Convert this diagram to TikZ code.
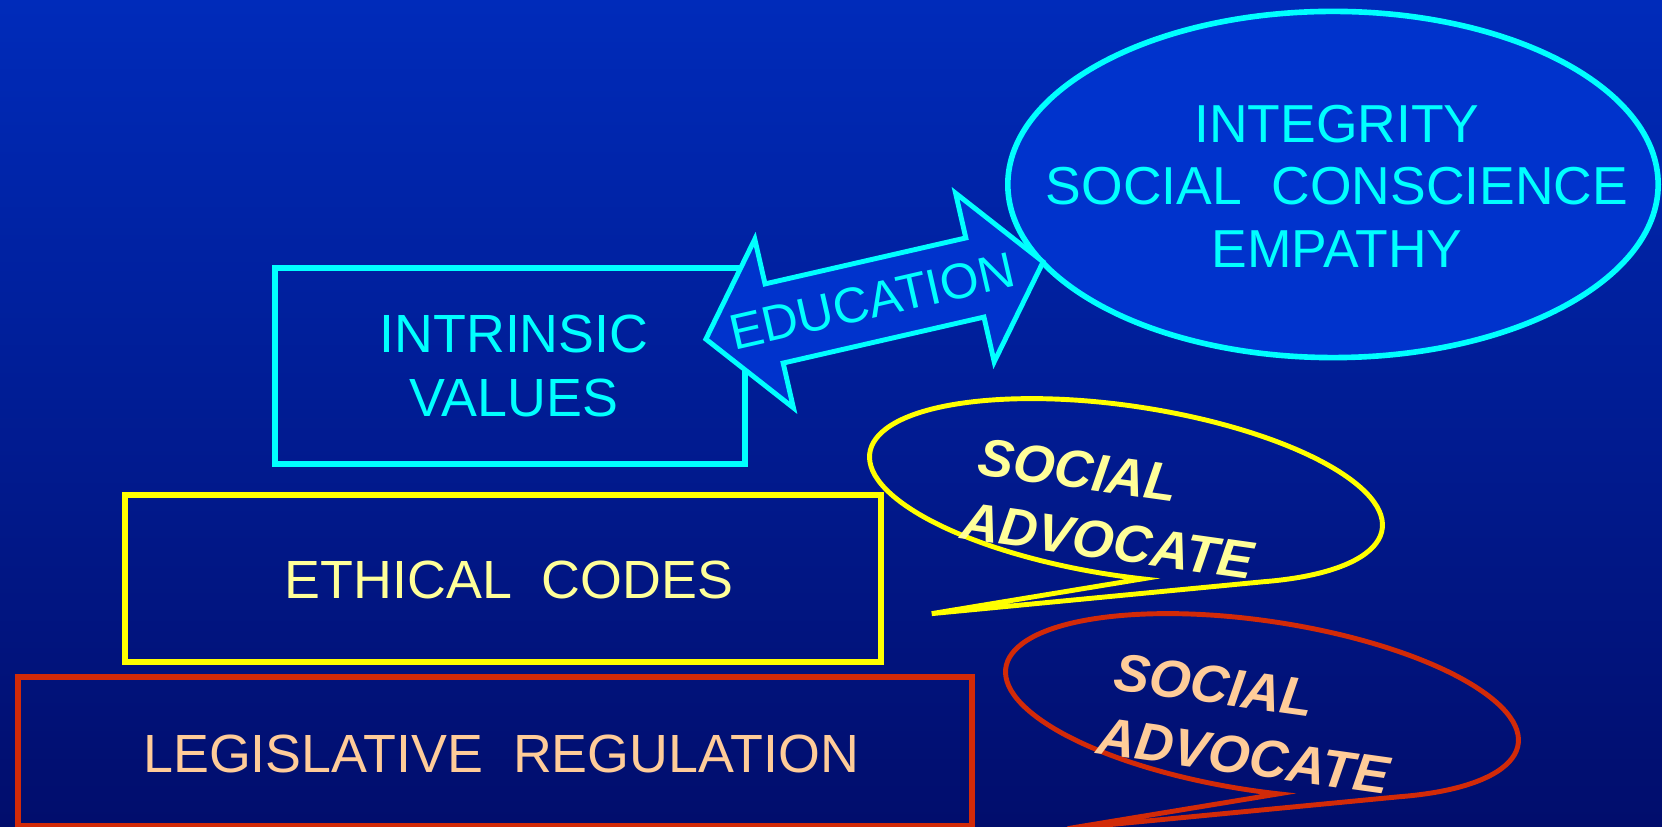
\documentclass[tikz,border=0pt]{standalone}
\usepackage{fontspec}
\setmainfont{Liberation Sans}
\usetikzlibrary{shapes.geometric}

\definecolor{bgtop}{RGB}{0,43,186}
\definecolor{bgbot}{RGB}{1,13,108}
\definecolor{ovalblue}{RGB}{0,51,204}
\definecolor{linecyan}{RGB}{0,255,255}
\definecolor{codeyellow}{RGB}{255,255,0}
\definecolor{paleyellow}{RGB}{255,255,153}
\definecolor{lawred}{RGB}{210,42,8}
\definecolor{peach}{RGB}{255,204,153}

\begin{document}
\begin{tikzpicture}[x=0.01cm, y=0.01cm,
  box/.style={draw, line width=1.7pt, inner sep=0pt},
  boxtext/.style={align=center, inner sep=0pt, font=\fontsize{15.3}{18}\selectfont},
  oval/.style={ellipse, draw=linecyan, fill=ovalblue, line width=1.6pt, inner sep=0pt},
  dblarrow/.style={draw=linecyan, fill=ovalblue, line width=1.4pt, line join=miter},
  bubble/.style={line width=1.4pt, line join=miter},
  say/.style={font=\fontsize{15.1}{16}\selectfont\bfseries\itshape, rotate=-8, inner sep=0pt}]

    % fond degrade
    \useasboundingbox (0,0) rectangle (1662,827);
    \clip (0,0) rectangle (1662,827);
    \shade[top color=bgtop, bottom color=bgbot] (0,0) rectangle (1662,827);

    % les trois niveaux
    \node[box, draw=linecyan, minimum width=4.69cm, minimum height=1.96cm] (values) at (510,461) {};
    \node[box, draw=codeyellow, minimum width=7.565cm, minimum height=1.67cm] (codes) at (503,248.5) {};
    \node[box, draw=lawred, minimum width=9.525cm, minimum height=1.49cm] (laws) at (495,75.5) {};
    \node[boxtext, text=linecyan] (valuestext) at ([xshift=0.04cm]values.center) {INTRINSIC\\VALUES};
    \node[boxtext, text=paleyellow] (codestext) at ([xshift=0.06cm, yshift=-0.015cm]codes.center) {ETHICAL\ \ CODES};
    \node[boxtext, text=peach] (lawstext) at ([xshift=0.06cm, yshift=-0.02cm]laws.center) {LEGISLATIVE\ \ REGULATION};

    % ovale du haut
    \node[oval, minimum width=6.5cm, minimum height=3.46cm] (virtues) at (1333,642.5) {};
    \node[align=center, text=linecyan, font=\fontsize{15.2}{17.8}\selectfont] (virtuestext) at (1337,641) {INTEGRITY\\SOCIAL\ \ CONSCIENCE\\EMPATHY};

    % fleche double
    \begin{scope}[shift={(874.5,526.5)}, rotate=12.9]
        \draw[dblarrow] (-173,0) -- (-103,86.5) -- (-103,40.6) -- (103,40.6) -- (103,86.5) -- (173,0)
            -- (103,-86.5) -- (103,-40.6) -- (-103,-40.6) -- (-103,-86.5) -- cycle;
    \end{scope}
    \node[rotate=12.9, text=linecyan, inner sep=0pt, font=\fontsize{14.2}{18}\selectfont] (educ) at (872,526) {EDUCATION};

    % bulles
    \begin{scope}[shift={(1126,336)}, rotate=-8.5]
        \draw[bubble, draw=codeyellow] (-55:259 and 85) arc[start angle=-55, end angle=276.5, x radius=259, y radius=85] -- (-174,-150) -- cycle;
    \end{scope}
    \begin{scope}[shift={(1262,121)}, rotate=-8.5]
        \draw[bubble, draw=lawred] (-55:259 and 85) arc[start angle=-55, end angle=276.5, x radius=259, y radius=85] -- (-174,-150) -- cycle;
    \end{scope}

    \node[say, text=paleyellow] (ysocial) at (1078,357) {SOCIAL};
    \node[say, text=paleyellow] (yadvocate) at (1108,286) {ADVOCATE};
    \node[say, text=peach] (rsocial) at (1214,142) {SOCIAL};
    \node[say, text=peach] (radvocate) at (1244,71) {ADVOCATE};

\end{tikzpicture}
\end{document}
